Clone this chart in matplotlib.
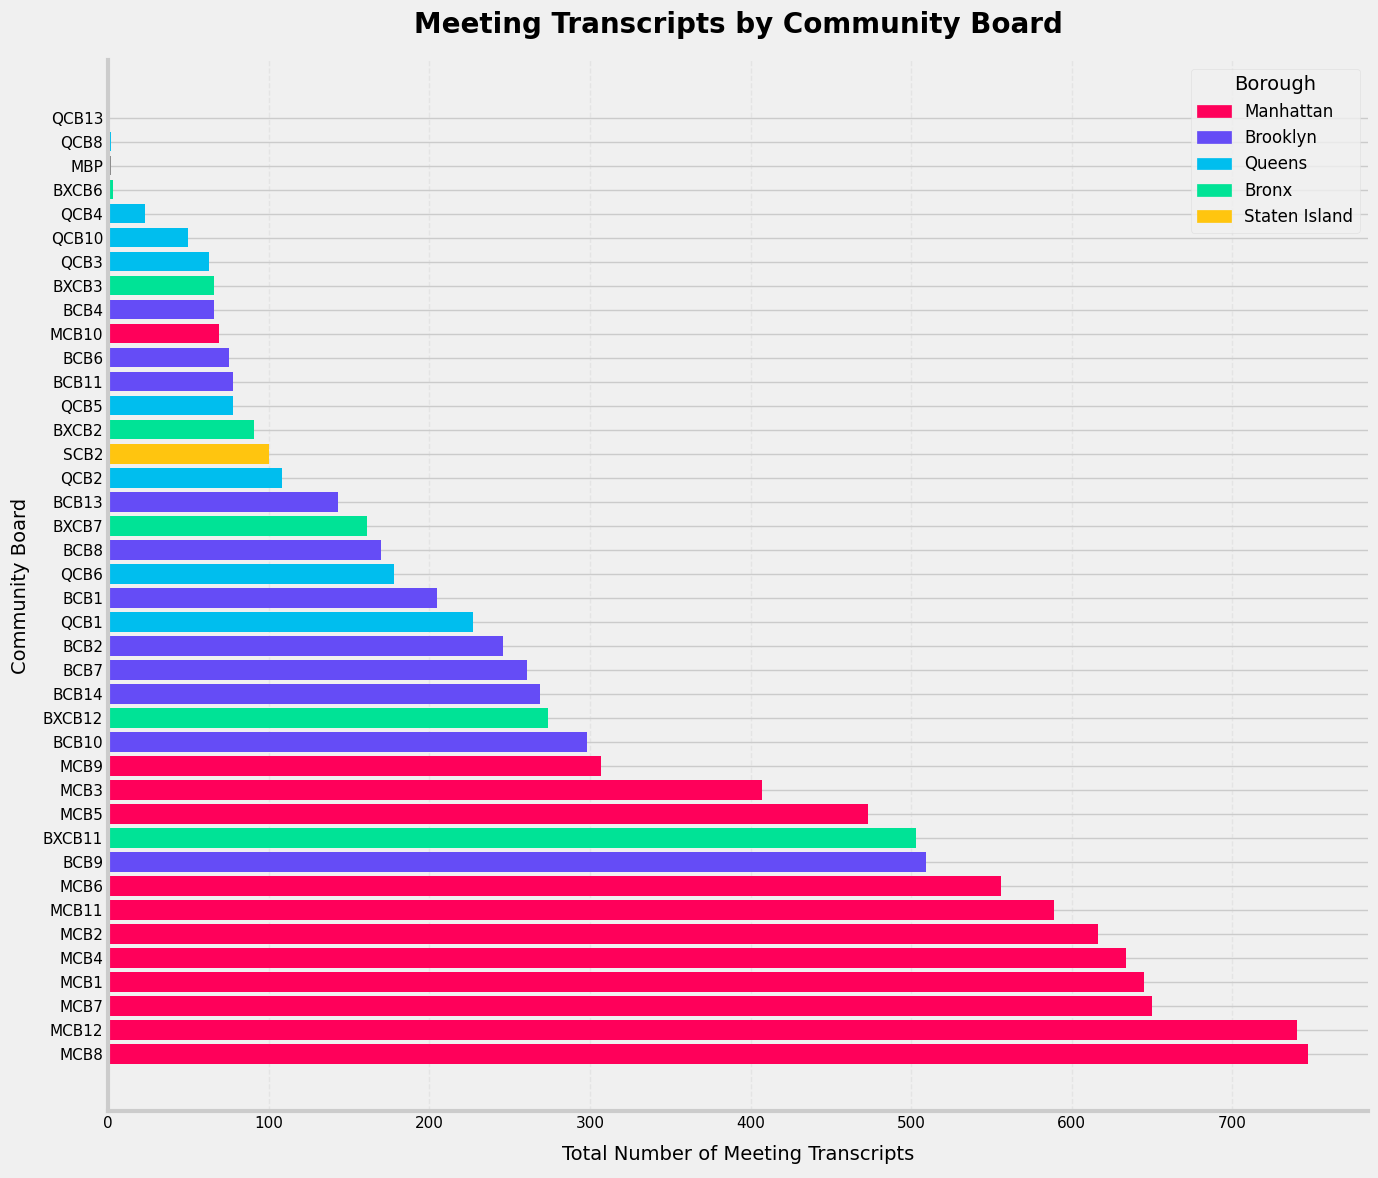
import numpy as np
import matplotlib
matplotlib.use("Agg")
import matplotlib.pyplot as plt
from matplotlib.patches import Patch

plt.style.use('fivethirtyeight')

# Community boards, sorted from most to fewest transcripts
boards = ['MCB8', 'MCB12', 'MCB7', 'MCB1', 'MCB4', 'MCB2', 'MCB11', 'MCB6',
          'BCB9', 'BXCB11', 'MCB5', 'MCB3', 'MCB9', 'BCB10', 'BXCB12', 'BCB14',
          'BCB7', 'BCB2', 'QCB1', 'BCB1', 'QCB6', 'BCB8', 'BXCB7', 'BCB13',
          'QCB2', 'SCB2', 'BXCB2', 'QCB5', 'BCB11', 'BCB6', 'MCB10', 'BCB4',
          'BXCB3', 'QCB3', 'QCB10', 'QCB4', 'BXCB6', 'MBP', 'QCB8', 'QCB13']
transcripts = [747, 740, 650, 645, 634, 616, 589, 556,
               509, 503, 473, 407, 307, 298, 274, 269,
               261, 246, 227, 205, 178, 170, 161, 143,
               108, 100, 91, 78, 78, 75, 69, 66,
               66, 63, 50, 23, 3, 2, 2, 0]
boroughs = ['Manhattan', 'Manhattan', 'Manhattan', 'Manhattan', 'Manhattan',
            'Manhattan', 'Manhattan', 'Manhattan', 'Brooklyn', 'Bronx',
            'Manhattan', 'Manhattan', 'Manhattan', 'Brooklyn', 'Bronx',
            'Brooklyn', 'Brooklyn', 'Brooklyn', 'Queens', 'Brooklyn',
            'Queens', 'Brooklyn', 'Bronx', 'Brooklyn', 'Queens',
            'Staten Island', 'Bronx', 'Queens', 'Brooklyn', 'Brooklyn',
            'Manhattan', 'Brooklyn', 'Bronx', 'Queens', 'Queens',
            'Queens', 'Bronx', 'Other', 'Queens', 'Queens']

borough_names = ['Manhattan', 'Brooklyn', 'Queens', 'Bronx', 'Staten Island']
borough_colors = {'Manhattan': '#FF005A', 'Brooklyn': '#654CF6',
                  'Queens': '#00BEEE', 'Bronx': '#00E396',
                  'Staten Island': '#FFC50F', 'Other': '#888888'}

fig = plt.figure(figsize=(13.78, 11.78), dpi=100)
ax = fig.add_axes([0.0784, 0.0565, 0.9143, 0.8922])

colors = [borough_colors[b] for b in boroughs]
ax.barh(boards, transcripts, color=colors, height=0.8)

ax.set_title('Meeting Transcripts by Community Board', fontsize=20,
             fontweight='bold', pad=20)
ax.set_xlabel('Total Number of Meeting Transcripts', fontsize=14, labelpad=10)
ax.set_ylabel('Community Board', fontsize=14, labelpad=9)
ax.tick_params(axis='both', labelsize=11)

ax.grid(axis='x', linestyle='--', alpha=0.3)

for side in ['top', 'right']:
    ax.spines[side].set_visible(False)
for side in ['left', 'bottom']:
    ax.spines[side].set_color('#cccccc')
    ax.spines[side].set_linewidth(3)

handles = [Patch(color=borough_colors[b], label=b) for b in borough_names]
leg = ax.legend(handles=handles, title='Borough', loc='upper right',
                fontsize=12, title_fontsize=14, frameon=True)
leg.get_frame().set_facecolor('#f0f0f0')
leg.get_frame().set_edgecolor('#dddddd')

fig.savefig('out.png', dpi=100)
